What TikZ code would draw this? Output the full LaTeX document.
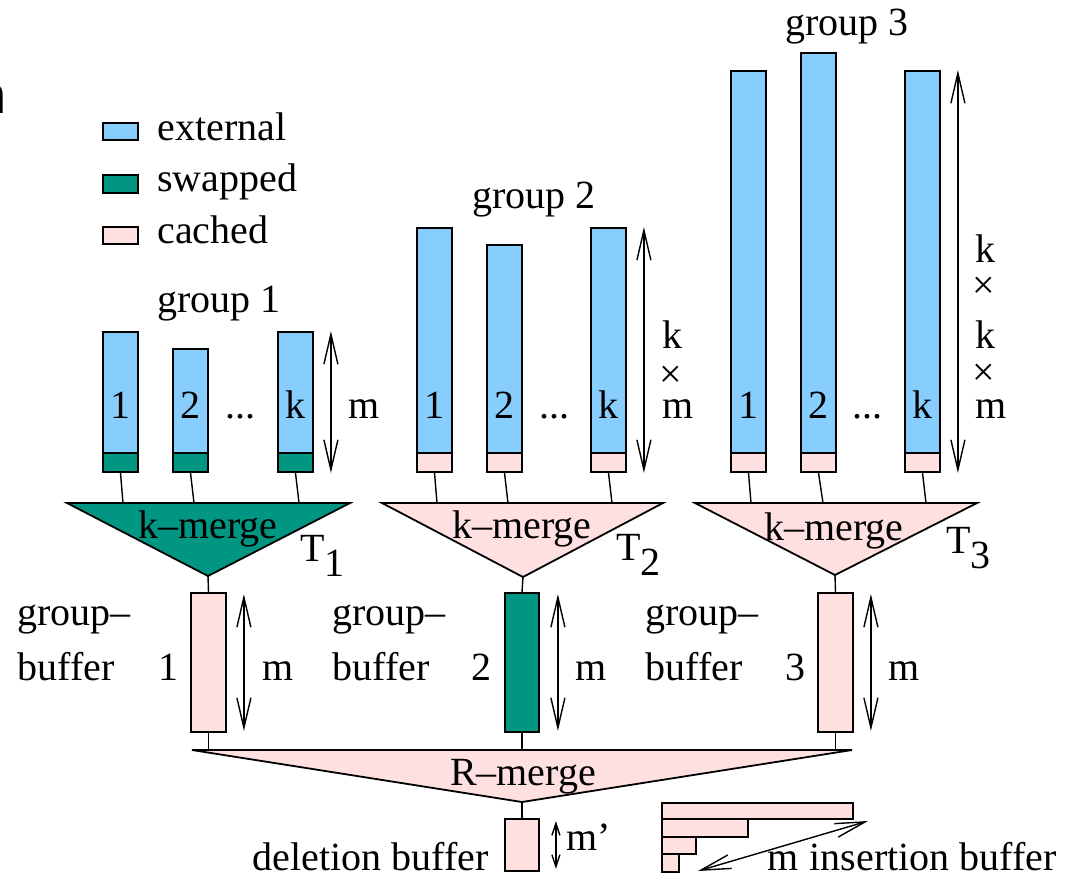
\documentclass[tikz,border=0pt]{standalone}
\usepackage{fontspec}
\setmainfont{Liberation Serif}
\newfontfamily\cutface{Liberation Sans}
\usepackage{tikz}
\usetikzlibrary{arrows.meta,fit,calc}

\definecolor{extblue}{RGB}{135,206,255}
\definecolor{swapgreen}{RGB}{0,150,130}
\definecolor{cachepink}{RGB}{255,224,224}

\tikzset{
  blk/.style={draw, line width=0.9pt, inner sep=0pt},
  ext/.style={blk, fill=extblue},
  swp/.style={blk, fill=swapgreen},
  cch/.style={blk, fill=cachepink},
  wire/.style={line width=0.7pt},
  dim/.style={line width=0.7pt, {Straight Barb[length=15pt,width=7pt]}-{Straight Barb[length=15pt,width=7pt]}},
  smalldim/.style={line width=0.7pt, {Straight Barb[length=6pt,width=4pt]}-{Straight Barb[length=6pt,width=4pt]}},
  txt/.style={anchor=base west, inner sep=0pt},
  ctxt/.style={anchor=base, inner sep=0pt},
}

\begin{document}
\begin{tikzpicture}[x=0.5pt,y=-0.5pt,font=\rmfamily\fontsize{20}{24}\selectfont]
\useasboundingbox (0,0) rectangle (1065,875);

% cut-off letter at the left edge
\begin{scope}
  \clip (0,0) rectangle (5,875);
  \node[anchor=base east, inner sep=0pt, font=\cutface\bfseries\fontsize{27}{30}\selectfont] (cut) at (7,113) {n};
\end{scope}

% legend
\node[ext, fit={(103,123)(138,140)}] (legext) {};
\node[swp, fit={(103,175)(138,193)}] (legswp) {};
\node[cch, fit={(103,227)(138,244)}] (legcch) {};
\node[txt] (legexttxt) at (157,140) {external};
\node[txt] (legswptxt) at (157,191) {swapped};
\node[txt] (legcchtxt) at (157,243) {cached};

% group 1
\node[ctxt] (grp1) at (219,312) {group 1};
\node[ext, fit={(103,332)(138,453)}] (g1a) {};
\node[ext, fit={(173,349)(208,453)}] (g1b) {};
\node[ext, fit={(278,332)(313,453)}] (g1k) {};
\node[swp, fit={(103,453)(138,472)}] (g1ac) {};
\node[swp, fit={(173,453)(208,472)}] (g1bc) {};
\node[swp, fit={(278,453)(313,472)}] (g1kc) {};
\node[ctxt] (g1al) at (120.5,418) {1};
\node[ctxt] (g1bl) at (190.5,418) {2};
\node[ctxt] (g1dots) at (240,418) {...};
\node[ctxt] (g1kl) at (295.5,418) {k};
\draw[dim] ($(g1k.north east)+(17,0)$) -- ($(g1kc.south east)+(17,0)$);
\node[txt] (g1m) at (348,418) {m};

% group 2
\node[ctxt] (grp2) at (534,208) {group 2};
\node[ext, fit={(417,228)(452,453)}] (g2a) {};
\node[ext, fit={(487,245)(522,453)}] (g2b) {};
\node[ext, fit={(591,228)(626,453)}] (g2k) {};
\node[cch, fit={(417,453)(452,472)}] (g2ac) {};
\node[cch, fit={(487,453)(522,472)}] (g2bc) {};
\node[cch, fit={(591,453)(626,472)}] (g2kc) {};
\node[ctxt] (g2al) at (434.5,418) {1};
\node[ctxt] (g2bl) at (504.5,418) {2};
\node[ctxt] (g2dots) at (554,418) {...};
\node[ctxt] (g2kl) at (608.5,418) {k};
\draw[dim] ($(g2k.north east)+(17,0)$) -- ($(g2kc.south east)+(17,0)$);
\node[txt] (g2k1) at (662,348) {k};
\node[inner sep=0pt] (g2x1) at (671,377) {×};
\node[txt] (g2m) at (662,418) {m};

% group 3
\node[ctxt] (grp3) at (847,35) {group 3};
\node[ext, fit={(731,71)(766,453)}] (g3a) {};
\node[ext, fit={(801,53)(836,453)}] (g3b) {};
\node[ext, fit={(905,71)(940,453)}] (g3k) {};
\node[cch, fit={(731,453)(766,472)}] (g3ac) {};
\node[cch, fit={(801,453)(836,472)}] (g3bc) {};
\node[cch, fit={(905,453)(940,472)}] (g3kc) {};
\node[ctxt] (g3al) at (748.5,418) {1};
\node[ctxt] (g3bl) at (818.5,418) {2};
\node[ctxt] (g3dots) at (867,418) {...};
\node[ctxt] (g3kl) at (922.5,418) {k};
\draw[dim] ($(g3k.north east)+(17,0)$) -- ($(g3kc.south east)+(17,0)$);
\node[txt] (g3k1) at (975,262) {k};
\node[inner sep=0pt] (g3x1) at (984,288) {×};
\node[txt] (g3k2) at (975,348) {k};
\node[inner sep=0pt] (g3x2) at (984,375) {×};
\node[txt] (g3m) at (975,418) {m};

% k-merge trees
\draw[swp] (67,503) -- (350,503) -- (208,576) coordinate (t1o) -- cycle;
\draw[cch] (382,503) -- (663,503) -- (523,577) coordinate (t2o) -- cycle;
\draw[cch] (695,503) -- (977,503) -- (835,575) coordinate (t3o) -- cycle;
\node[ctxt] (t1txt) at (208,538) {k–merge};
\node[ctxt] (t2txt) at (522,538) {k–merge};
\node[ctxt] (t3txt) at (834,540) {k–merge};
\node[txt] (t1name) at (300,561) {T\raisebox{-7.5pt}{1}};
\node[txt] (t2name) at (616,560) {T\raisebox{-7.5pt}{2}};
\node[txt] (t3name) at (946,553) {T\raisebox{-7.5pt}{3}};

\coordinate (t1a) at (123,503);
\coordinate (t1b) at (194,503);
\coordinate (t1k) at (299,503);
\coordinate (t2a) at (437,503);
\coordinate (t2b) at (508,503);
\coordinate (t2k) at (612,503);
\coordinate (t3a) at (751,503);
\coordinate (t3b) at (823,503);
\coordinate (t3k) at (926,503);
\draw[wire] (g1ac.south) -- (t1a);
\draw[wire] (g1bc.south) -- (t1b);
\draw[wire] (g1kc.south) -- (t1k);
\draw[wire] (g2ac.south) -- (t2a);
\draw[wire] (g2bc.south) -- (t2b);
\draw[wire] (g2kc.south) -- (t2k);
\draw[wire] (g3ac.south) -- (t3a);
\draw[wire] (g3bc.south) -- (t3b);
\draw[wire] (g3kc.south) -- (t3k);

% group buffers
\node[cch, fit={(191,593)(226,732)}] (gb1) {};
\node[swp, fit={(505,593)(539,732)}] (gb2) {};
\node[cch, fit={(818,593)(853,732)}] (gb3) {};
\draw[wire] (t1o) -- (gb1.north);
\draw[wire] (t2o) -- (gb2.north);
\draw[wire] (t3o) -- (gb3.north);
\draw[dim] ($(gb1.north east)+(17,2)$) -- ($(gb1.south east)+(17,-2)$);
\draw[dim] ($(gb2.north east)+(18,2)$) -- ($(gb2.south east)+(18,-2)$);
\draw[dim] ($(gb3.north east)+(17,2)$) -- ($(gb3.south east)+(17,-2)$);
\node[txt] (gb1m) at (262,680) {m};
\node[txt] (gb2m) at (575,680) {m};
\node[txt] (gb3m) at (888,680) {m};
\node[txt] (gb1t) at (17,625) {group–};
\node[txt] (gb1u) at (17,680) {buffer};
\node[txt] (gb1n) at (158,680) {1};
\node[txt] (gb2t) at (332,625) {group–};
\node[txt] (gb2u) at (332,680) {buffer};
\node[txt] (gb2n) at (471,680) {2};
\node[txt] (gb3t) at (645,625) {group–};
\node[txt] (gb3u) at (645,680) {buffer};
\node[txt] (gb3n) at (785,680) {3};

% R-merge
\draw[cch] (192,750) -- (852,750) -- (522,802) coordinate (ro) -- cycle;
\node[ctxt] (rtxt) at (523,785) {R–merge};
\draw[wire] (gb1.south) -- (gb1.south |- 0,750);
\draw[wire] (gb2.south) -- (gb2.south |- 0,750);
\draw[wire] (gb3.south) -- (gb3.south |- 0,750);

% deletion buffer
\node[cch, fit={(505,819)(539,871)}] (del) {};
\draw[wire] (ro) -- (del.north);
\draw[smalldim] ($(del.north east)+(16,3)$) -- ($(del.south east)+(16,-3)$);
\node[txt] (delm) at (566,850) {m’};
\node[anchor=base east, inner sep=0pt] (deltxt) at (489,870) {deletion buffer};

% insertion buffer
\node[cch, fit={(662,803)(853,819)}] (ins1) {};
\node[cch, fit={(662,819)(748,837)}] (ins2) {};
\node[cch, fit={(662,837)(696,854)}] (ins3) {};
\node[cch, fit={(662,854)(679,872)}] (ins4) {};
\coordinate (insr) at (868,821);
\coordinate (insl) at (698,871);
\draw[dim] (insr) -- (insl);
\node[txt] (insm) at (767,870) {m};
\node[anchor=base east, inner sep=0pt] (instxt) at (1057,870) {insertion buffer};
\end{tikzpicture}
\end{document}
